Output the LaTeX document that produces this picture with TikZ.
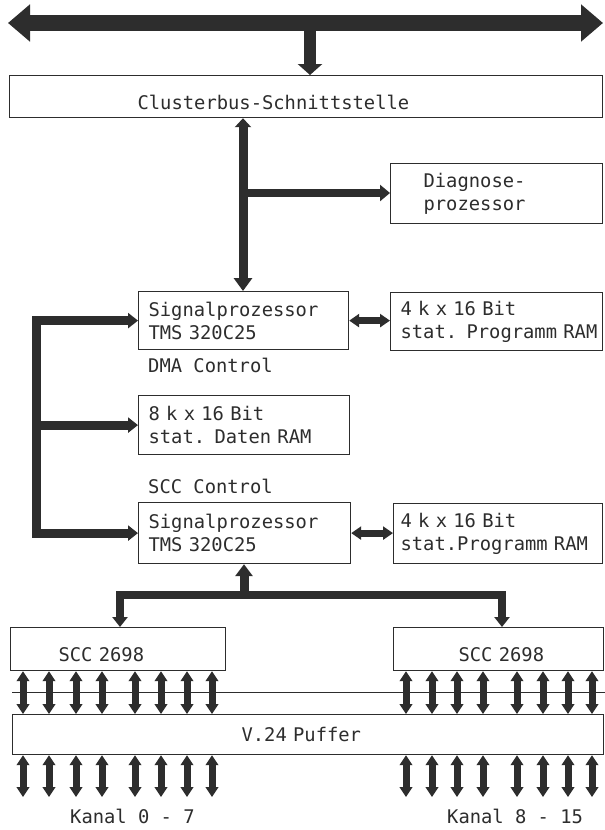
\documentclass[tikz,border=0pt]{standalone}
\usepackage{fontspec}
\newfontfamily\monofont{DejaVu Sans Mono}
\usetikzlibrary{arrows.meta}
\definecolor{ink}{RGB}{45,45,45}
\begin{document}
\begin{tikzpicture}[x=1pt,y=-1pt,
  txt/.style={font={\monofont\fontsize{18.8pt}{23pt}\selectfont},text=ink},
  box/.style={txt,draw=ink,line width=1.2pt,anchor=north west,inner ysep=0pt,align=left},
  lab/.style={txt,inner sep=0pt,anchor=base west},
  topbus/.style={draw=ink,line width=16pt,{Triangle[length=22pt,width=36pt]}-{Triangle[length=22pt,width=36pt]}},
  drop/.style={draw=ink,line width=12pt,-{Triangle[length=11pt,width=24pt]}},
  vbus/.style={draw=ink,line width=9pt,{Triangle[length=9pt,width=16pt]}-{Triangle[length=13pt,width=18pt]}},
  branch/.style={draw=ink,line width=8pt,-{Triangle[length=10pt,width=16pt]}},
  lbus/.style={draw=ink,line width=9pt,{Triangle[length=10pt,width=15pt]}-{Triangle[length=10pt,width=15pt]}},
  lbranch/.style={draw=ink,line width=9pt,-{Triangle[length=10pt,width=15pt]}},
  ramlink/.style={draw=ink,line width=7pt,{Triangle[length=10pt,width=13pt]}-{Triangle[length=10pt,width=13pt]}},
  upar/.style={draw=ink,line width=9pt,{Triangle[length=12pt,width=17pt]}-},
  sccbus/.style={draw=ink,line width=8.5pt,{Triangle[length=10pt,width=15pt]}-{Triangle[length=10pt,width=15pt]}},
  chan/.style={draw=ink,line width=7pt,{Triangle[length=10pt,width=12.5pt]}-{Triangle[length=10pt,width=12.5pt]}},
  hair/.style={draw=ink,line width=0.8pt}]
\fill[white] (0,0) rectangle (605,830);
\useasboundingbox (0,0) rectangle (605,830);

% boxes
\node[box,minimum width=593pt,minimum height=42pt,inner xsep=128pt,text width=337pt,text height=26pt,text depth=0pt] (cb) at (9,75) {Clusterbus-Schnittstelle};
\node[box,minimum width=212pt,minimum height=60pt,inner xsep=33pt,text width=146pt] (diag) at (390,163) {Diagnose-\\prozessor};
\node[box,minimum width=210pt,minimum height=58pt,inner xsep=10pt,text width=190pt] (sp1) at (138,291) {Signalprozessor\\TMS 320C25};
\node[box,minimum width=212pt,minimum height=58pt,inner xsep=10pt,text width=192pt] (ram1) at (390,292) {4 k x 16 Bit\\\mbox{stat. Programm RAM}};
\node[box,minimum width=211pt,minimum height=59pt,inner xsep=10pt,text width=191pt] (dram) at (138,395) {8 k x 16 Bit\\stat. Daten RAM};
\node[box,minimum width=212pt,minimum height=61pt,inner xsep=10pt,text width=192pt] (sp2) at (138,502) {Signalprozessor\\TMS 320C25};
\node[box,minimum width=209pt,minimum height=60pt,inner xsep=7pt,text width=195pt] (ram2) at (393,503) {4 k x 16 Bit\\\mbox{stat.Programm RAM}};
\node[box,minimum width=215pt,minimum height=43pt,inner xsep=48pt,text width=119pt,text height=25pt,text depth=0pt] (sccL) at (10,627) {SCC 2698};
\node[box,minimum width=210pt,minimum height=43pt,inner xsep=65pt,text width=80pt,text height=25pt,text depth=0pt] (sccR) at (393,627) {\mbox{SCC 2698}};
\node[box,minimum width=591pt,minimum height=40pt,inner xsep=229pt,text width=133pt] (v24) at (12,714) {V.24 Puffer};

% labels
\node[lab] (dma) at (148,372) {DMA Control};
\node[lab] (sccc) at (148,493) {SCC Control};
\node[lab] (k07) at (70,823) {Kanal 0 - 7};
\node[lab] (k815) at (447,823) {Kanal 8 - 15};

% top bus
\coordinate (busL) at (8,23);
\coordinate (busR) at (603,23);
\coordinate (busJ) at (310,23);
\draw[topbus] (busL) -- (busR);
\draw[drop] (busJ) -- (cb.north -| busJ);

% cluster interface to signal processor 1 and diagnose
\coordinate (vx) at (243,0);
\coordinate (j1) at (243,193);
\draw[vbus] (cb.south -| vx) -- (sp1.north -| vx);
\draw[branch] (j1) -- (j1 -| diag.west);

% left bus
\coordinate (lbx) at (36.5,0);
\draw[lbus] (sp1.west) -- (sp1.west -| lbx) -- (sp2.west -| lbx) -- (sp2.west);
\draw[lbranch] (dram.west -| lbx) -- (dram.west);

% processor to RAM
\draw[ramlink] (sp1.east) -- (sp1.east -| ram1.west);
\draw[ramlink] (sp2.east) -- (sp2.east -| ram2.west);

% processor 2 to SCCs
\coordinate (ux) at (244,0);
\coordinate (sj) at (244,595);
\coordinate (sl) at (120,595);
\coordinate (sr) at (502,595);
\draw[upar] (sp2.south -| ux) -- (sj);
\draw[sccbus] (sccL.north -| sl) -- (sl) -- (sr) -- (sccR.north -| sr);

% thin line
\coordinate (h1) at (12,692);
\coordinate (h2) at (605,692);
\draw[hair] (h1) -- (h2);

% channel arrows
\foreach \x [count=\i] in {23,49,76,102,135,161,187,212} {
  \coordinate (cl\i) at (\x,797);
  \draw[chan] (sccL.south -| cl\i) -- (v24.north -| cl\i);
  \draw[chan] (v24.south -| cl\i) -- (cl\i);
}
\foreach \x [count=\i] in {406,432,457,483,517,543,568,592} {
  \coordinate (cr\i) at (\x,797);
  \draw[chan] (sccR.south -| cr\i) -- (v24.north -| cr\i);
  \draw[chan] (v24.south -| cr\i) -- (cr\i);
}
\end{tikzpicture}
\end{document}
